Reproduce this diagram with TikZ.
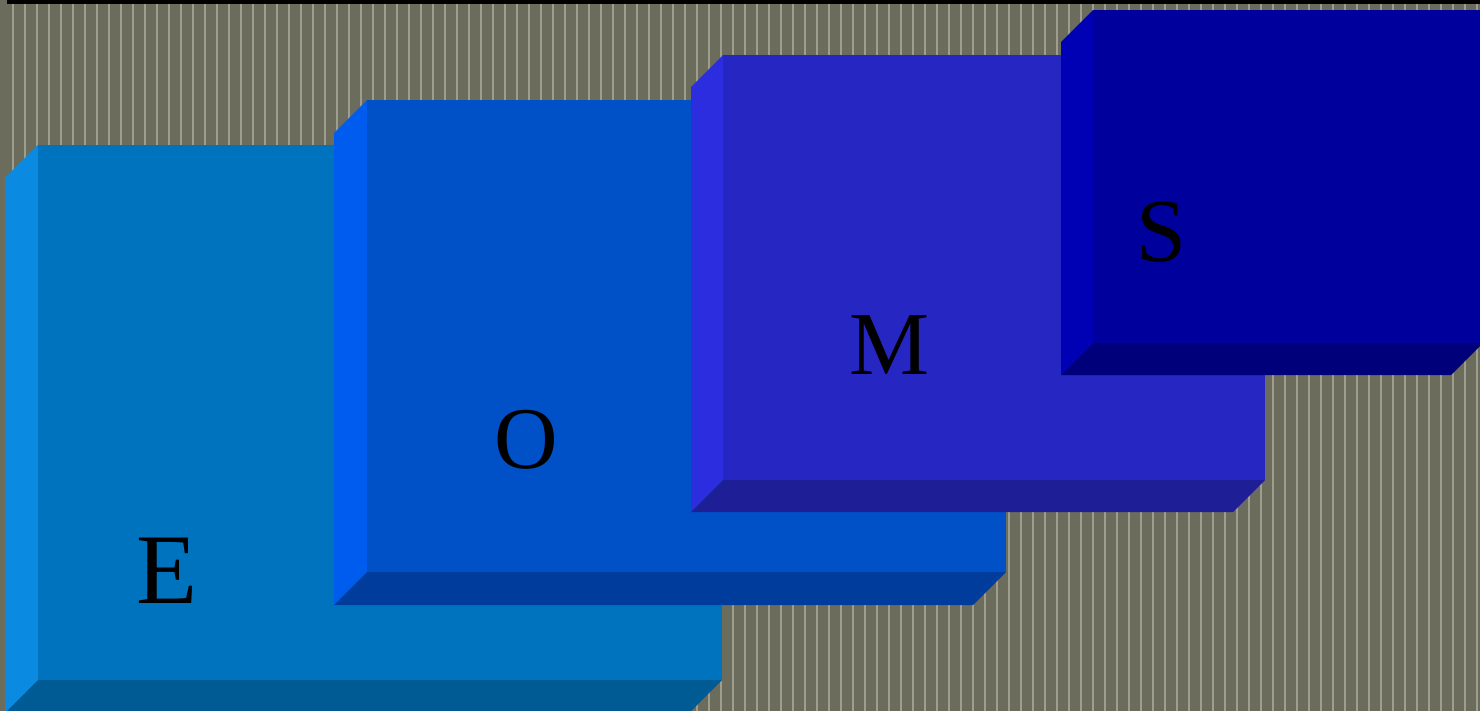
\documentclass[tikz,border=0pt]{standalone}
\usepackage{fontspec}
\setmainfont{Liberation Serif}
\definecolor{bgc}{HTML}{6C6C5C}
\definecolor{stripec}{HTML}{9E9E8E}
\definecolor{eL}{HTML}{0A8AE0}\definecolor{eF}{HTML}{0073BF}\definecolor{eB}{HTML}{005A94}
\definecolor{oL}{HTML}{005CEE}\definecolor{oF}{HTML}{0050C8}\definecolor{oB}{HTML}{003C9C}
\definecolor{mL}{HTML}{2D2DE0}\definecolor{mF}{HTML}{2626C3}\definecolor{mB}{HTML}{1E1E96}
\definecolor{sL}{HTML}{0000B5}\definecolor{sF}{HTML}{00009C}\definecolor{sB}{HTML}{00007A}
% #1 x1, #2 y1, #3 x2, #4 y2, #5 depth, #6 left, #7 front, #8 bottom
\newcommand\slabbox[8]{%
  \fill[#6] (#1,#2) -- (#1,#4) -- (#1-#5,#4+#5) -- (#1-#5,#2+#5) -- cycle;
  \fill[#8] (#1,#4) -- (#3,#4) -- (#3-#5,#4+#5) -- (#1-#5,#4+#5) -- cycle;
  \fill[#7] (#1,#2) rectangle (#3,#4);
}
\tikzset{letter/.style={inner sep=0pt, anchor=base, text=black}}
\begin{document}
\begin{tikzpicture}[x=1pt,y=-1pt]
\useasboundingbox (0,0) rectangle (1480,711);
\clip (0,0) rectangle (1480,711);
\fill[bgc] (0,0) rectangle (1480,711);
\foreach \i in {0,...,123} {
  \fill[stripec] ({12.4+12*\i},0) rectangle ({14.1+12*\i},711);
}
\fill[black] (7,0) rectangle (1480,4);
\slabbox{38}{145}{722}{680}{33}{eL}{eF}{eB}
\slabbox{367}{100}{1006}{572}{33}{oL}{oF}{oB}
\slabbox{723}{55}{1265}{480}{32}{mL}{mF}{mB}
\slabbox{1093}{10}{1483}{343}{32}{sL}{sF}{sB}
\node[letter, font=\fontsize{100}{100}\selectfont] (e) at (167,603) {E};
\node[letter, font=\fontsize{88}{88}\selectfont] (o) at (526,468) {O};
\node[letter, font=\fontsize{90}{90}\selectfont] (m) at (890,374) {M};
\node[letter, font=\fontsize{90}{90}\selectfont] (s) at (1162,262) {S};
\end{tikzpicture}
\end{document}
